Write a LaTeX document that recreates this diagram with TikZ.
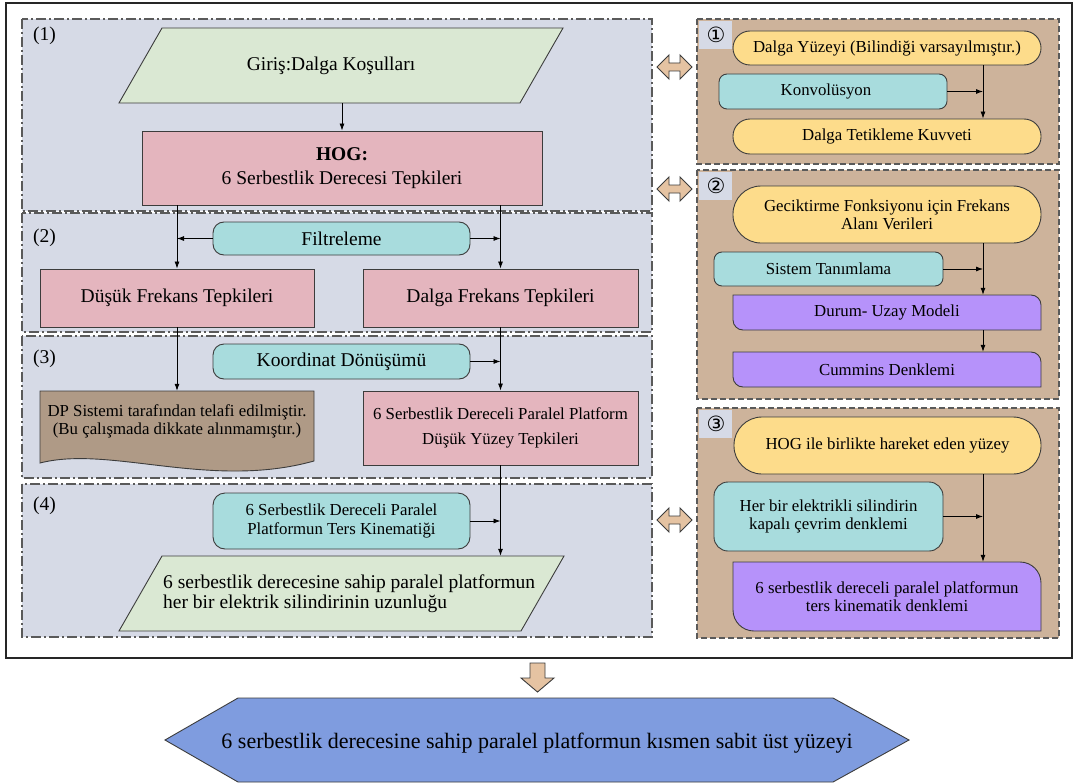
\documentclass[tikz,border=0pt]{standalone}
\usepackage{fontspec}
\setmainfont{Liberation Serif}
\newfontfamily\circfont{DejaVu Sans}
\usetikzlibrary{arrows.meta}
\definecolor{panelL}{HTML}{D6DAE6}
\definecolor{panelR}{HTML}{CDB39B}
\definecolor{greenF}{HTML}{DAE8D3}
\definecolor{pinkF}{HTML}{E4B5BE}
\definecolor{cyanF}{HTML}{A8DCDD}
\definecolor{brownF}{HTML}{AF9A86}
\definecolor{yellowF}{HTML}{FDDC8B}
\definecolor{purpleF}{HTML}{B692FA}
\definecolor{tanF}{HTML}{E5C3A2}
\definecolor{hexF}{HTML}{7F9CDF}
\definecolor{edgeC}{HTML}{3C3C3C}
\definecolor{dashC}{HTML}{5A5A5A}

\newcommand{\purpleshape}[5]{%
  \draw[shapeline, fill=purpleF] (#1,#2) -- ({#3-#5},#2) .. controls ({#3-0.448*#5},#2) and (#3,{#2+0.448*#5}) .. (#3,{#2+#5}) -- (#3,#4) -- ({#1+#5},#4) .. controls ({#1+0.448*#5},#4) and (#1,{#4-0.448*#5}) .. (#1,{#4-#5}) -- cycle;}
\newcommand{\dblarrow}[2]{%
  \draw[shapeline, fill=tanF] ({#1-17.5},#2) -- ({#1-5.5},{#2-12}) -- ({#1-5.5},{#2-4}) -- ({#1+5.5},{#2-4}) -- ({#1+5.5},{#2-12}) -- ({#1+17.5},#2) -- ({#1+5.5},{#2+12}) -- ({#1+5.5},{#2+4}) -- ({#1-5.5},{#2+4}) -- ({#1-5.5},{#2+12}) -- cycle;}

\begin{document}
\begin{tikzpicture}[x=1pt,y=-1pt,
  shapeline/.style={draw=edgeC, line width=0.9pt},
  lpanel/.style={fill=panelL, draw=dashC, line width=1.3pt, dash pattern=on 10pt off 3pt on 2pt off 3pt},
  rpanel/.style={fill=panelR, draw=dashC, line width=1.3pt, dash pattern=on 6pt off 3pt},
  txtL/.style={font=\fontsize{19.5}{24}\selectfont},
  txtS/.style={font=\fontsize{16.8}{18}\selectfont},
  box/.style={shapeline, inner sep=0pt, align=center},
  pinkbox/.style={box, fill=pinkF, txtL},
  ph/.style={inner sep=0pt, align=center},
  conn/.style={draw=black, line width=0.8pt, -{Latex[length=7pt,width=5pt]}},
  lbl/.style={txtL, anchor=north west, inner sep=0pt},
  circ/.style={font=\circfont\fontsize{21}{21}\selectfont, inner sep=0pt},
]
\useasboundingbox (0,0) rectangle (1076,784);
\fill[white] (0,0) rectangle (1076,784);

% outer frame
\draw[line width=2.2pt, draw=black!85] (6,3) rectangle (1072,658);

% left panels
\draw[lpanel] (22,19) rectangle (652,211);
\draw[lpanel] (22,213) rectangle (652,332);
\draw[lpanel] (22,336) rectangle (652,478);
\draw[lpanel] (22,484) rectangle (652,637);
\node[lbl] (l1) at (33,27) {(1)};
\node[lbl] (l2) at (33,229) {(2)};
\node[lbl] (l3) at (33,350) {(3)};
\node[lbl] (l4) at (33,497) {(4)};

% right panels
\draw[rpanel] (697,19) rectangle (1059,164);
\draw[rpanel] (697,170) rectangle (1059,399);
\draw[rpanel] (697,408) rectangle (1059,638);
\fill[panelL] (699,21) rectangle (732,49);
\fill[panelL] (699,172) rectangle (732,200);
\fill[panelL] (699,410) rectangle (732,438);
\node[circ] (c1) at (716,35) {①};
\node[circ] (c2) at (716,186) {②};
\node[circ] (c3) at (716,424) {③};

% double arrows
\dblarrow{674.5}{67}
\dblarrow{674.5}{189}
\dblarrow{674.5}{520}

% ---- panel 1 ----
\draw[shapeline, fill=greenF] (162,28) -- (563,28) -- (520,103) -- (119,103) -- cycle;
\node[ph, txtL, minimum height=75pt] (giris) at (331,65.5) {Giriş:Dalga Koşulları};
\node[pinkbox, minimum width=400pt, minimum height=74pt] (hog) at (342,168) {\textbf{HOG:}\\[-0.5pt]6 Serbestlik Derecesi Tepkileri};

% ---- panel 2 ----
\node[box, fill=cyanF, rounded corners=11pt, txtL, minimum width=257pt, minimum height=33pt] (filt) at (341.5,238.5) {Filtreleme};
\node[pinkbox, minimum width=274pt, minimum height=58pt] (dusuk) at (177,298) {Düşük Frekans Tepkileri};
\node[pinkbox, minimum width=275pt, minimum height=58pt] (dalgaf) at (500.5,298) {Dalga Frekans Tepkileri};

% ---- panel 3 ----
\node[box, fill=cyanF, rounded corners=11pt, txtL, minimum width=257pt, minimum height=35pt] (koord) at (341.5,361.5) {Koordinat Dönüşümü};
\draw[shapeline, fill=brownF] (40,391) -- (314,391) -- (314,461) .. controls (210,490) and (110,445) .. (40,463) -- cycle;
\node[ph, minimum width=274pt, minimum height=74pt] (dp) at (177,428) {};
\node[ph, txtS] (dptext) at (177,421) {DP Sistemi tarafından telafi edilmiştir.\\(Bu çalışmada dikkate alınmamıştır.)};
\node[box, fill=pinkF, minimum width=275pt, minimum height=74pt, font=\fontsize{16.8}{25}\selectfont] (dof) at (500.5,428) {6 Serbestlik Dereceli Paralel Platform\\Düşük Yüzey Tepkileri};

% ---- panel 4 ----
\node[box, fill=cyanF, rounded corners=12pt, minimum width=257pt, minimum height=56pt, font=\fontsize{16.8}{19}\selectfont] (ters) at (341.5,521) {6 Serbestlik Dereceli Paralel\\Platformun Ters Kinematiği};
\draw[shapeline, fill=greenF] (162,556) -- (564,556) -- (521,631) -- (119,631) -- cycle;
\node[ph, align=left, anchor=west, minimum height=75pt, font=\fontsize{19.5}{20}\selectfont] (par2) at (163,593.5) {6 serbestlik derecesine sahip paralel platformun\\her bir elektrik silindirinin uzunluğu};

% ---- left connectors ----
\draw[conn] (hog.north |- giris.south) -- (hog.north);
\draw[conn] (hog.south -| dusuk.north) -- (dusuk.north);
\draw[conn] (hog.south -| dalgaf.north) -- (dalgaf.north);
\draw[conn] (filt.west) -- (filt.west -| dusuk.north);
\draw[conn] (filt.east) -- (filt.east -| dalgaf.north);
\draw[conn] (dusuk.south) -- (dp.north);
\draw[conn] (dalgaf.south) -- (dof.north);
\draw[conn] (koord.east) -- (koord.east -| dof.north);
\draw[conn] (dof.south) -- (dof.south |- par2.north);
\draw[conn] (ters.east) -- (ters.east -| dof.south);

% ---- right panel 1 ----
\coordinate (v) at (983,0);
\node[box, fill=yellowF, rounded corners=17pt, txtS, minimum width=308pt, minimum height=34pt] (dy) at (887,48) {Dalga Yüzeyi (Bilindiği varsayılmıştır.)};
\node[box, fill=cyanF, rounded corners=8pt, txtS, minimum width=228pt, minimum height=35pt] (konv) at (833,91.5) {\hspace*{-14pt}Konvolüsyon};
\node[box, fill=yellowF, rounded corners=17pt, txtS, minimum width=308pt, minimum height=35pt] (dt) at (887,136.5) {Dalga Tetikleme Kuvveti};
\draw[conn] (dy.south -| v) -- (dt.north -| v);
\draw[conn] (konv.east) -- (konv.east -| v);

% ---- right panel 2 ----
\node[box, fill=yellowF, rounded corners=28pt, txtS, minimum width=308pt, minimum height=57pt] (gec) at (887,214.5) {Geciktirme Fonksiyonu için Frekans\\Alanı Verileri};
\node[box, fill=cyanF, rounded corners=8pt, txtS, minimum width=229pt, minimum height=34pt] (sis) at (828.5,269) {Sistem Tanımlama};
\purpleshape{733}{295}{1041}{330}{10}
\node[ph, txtS, minimum width=308pt, minimum height=35pt] (durum) at (887,312.5) {Durum- Uzay Modeli};
\purpleshape{733}{352}{1041}{387}{10}
\node[ph, txtS, minimum width=308pt, minimum height=35pt] (cum) at (887,369.5) {Cummins Denklemi};
\draw[conn] (gec.south -| v) -- (durum.north -| v);
\draw[conn] (sis.east) -- (sis.east -| v);
\draw[conn] (durum.south -| v) -- (cum.north -| v);

% ---- right panel 3 ----
\node[box, fill=yellowF, rounded corners=28pt, txtS, minimum width=307pt, minimum height=57pt] (hogile) at (887.5,445.5) {HOG ile birlikte hareket eden yüzey};
\node[box, fill=cyanF, rounded corners=14pt, txtS, minimum width=229pt, minimum height=69pt] (her) at (828.5,516.5) {Her bir elektrikli silindirin\\kapalı çevrim denklemi};
\purpleshape{733}{562}{1041}{631}{21}
\node[ph, minimum width=308pt, minimum height=69pt, font=\fontsize{16.8}{17.5}\selectfont] (serb) at (887,596.5) {6 serbestlik dereceli paralel platformun\\ters kinematik denklemi};
\draw[conn] (hogile.south -| v) -- (serb.north -| v);
\draw[conn] (her.east) -- (her.east -| v);

% ---- bottom ----
\draw[shapeline, fill=tanF] (530,663) -- (545,663) -- (545,678) -- (554,678) -- (537.5,692) -- (521,678) -- (530,678) -- cycle;
\draw[shapeline, fill=hexF] (165,740) -- (238,698) -- (833,698) -- (909,740) -- (833,782) -- (238,782) -- cycle;
\node[ph, font=\fontsize{22}{26}\selectfont] (hex) at (537,743) {6 serbestlik derecesine sahip paralel platformun kısmen sabit üst yüzeyi};
\end{tikzpicture}
\end{document}
